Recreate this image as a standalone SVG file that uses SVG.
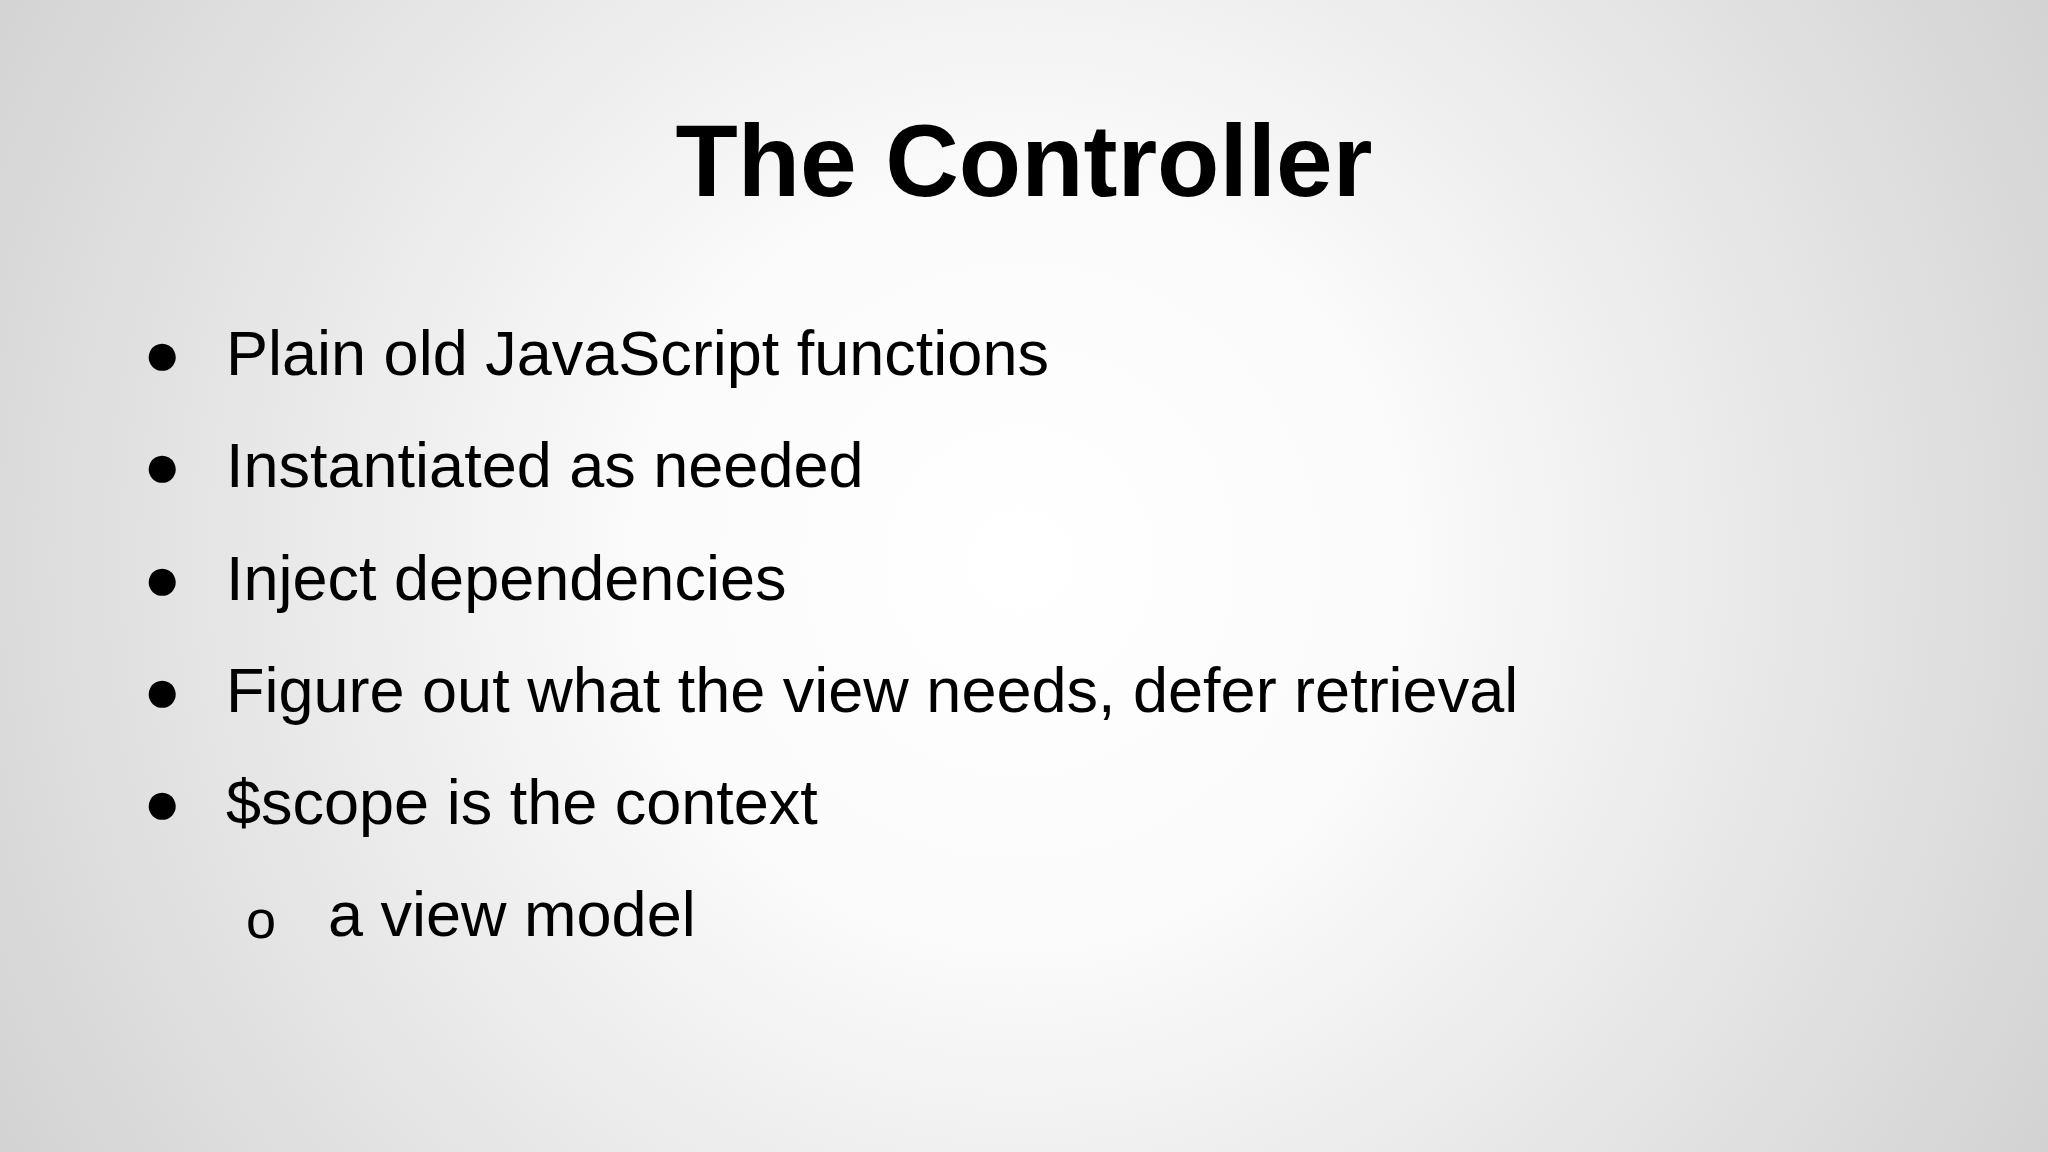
<svg xmlns="http://www.w3.org/2000/svg" width="2048" height="1152" viewBox="0 0 2048 1152">
<defs>
<radialGradient id="bg" cx="1020" cy="560" r="1250" gradientUnits="userSpaceOnUse">
<stop offset="0" stop-color="#ffffff"/>
<stop offset="0.3" stop-color="#fbfbfb"/>
<stop offset="1" stop-color="#cfcfcf"/>
</radialGradient>
<style>
.t{font-family:"Liberation Sans",Arial,sans-serif;fill:#000}
.b{font-size:63px}
</style>
</defs>
<rect width="2048" height="1152" fill="url(#bg)"/>
<g id="title"><text class="t" x="1024" y="196" font-size="102" font-weight="bold" text-anchor="middle">The Controller</text></g>
<g id="bullets">
<g class="t b">
<text x="143" y="375">●</text><text x="226" y="375">Plain old JavaScript functions</text>
<text x="143" y="487">●</text><text x="226" y="487">Instantiated as needed</text>
<text x="143" y="600">●</text><text x="226" y="600">Inject dependencies</text>
<text x="143" y="712">●</text><text x="226" y="712">Figure out what the view needs, defer retrieval</text>
<text x="143" y="824">●</text><text x="226" y="824">$scope is the context</text>
<text x="246" y="938" font-size="54">o</text><text x="328" y="936">a view model</text>
</g>
</g>
</svg>
